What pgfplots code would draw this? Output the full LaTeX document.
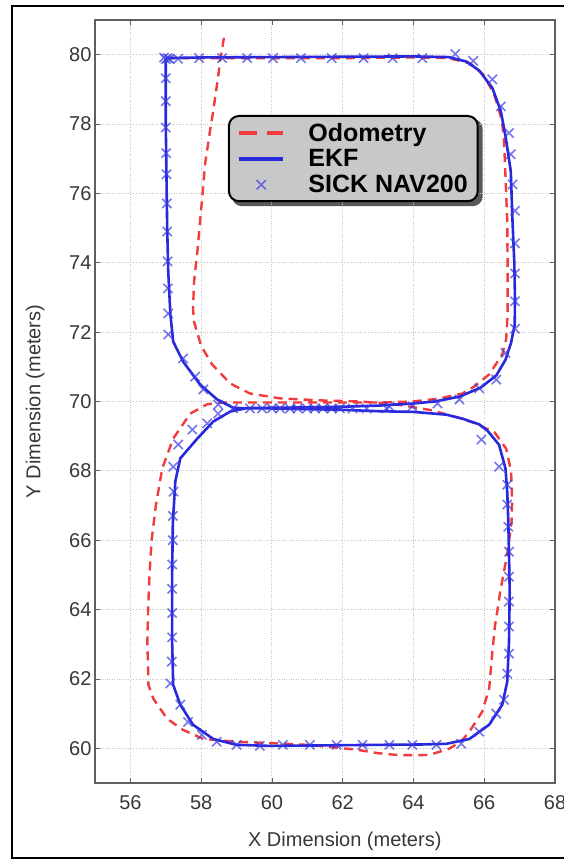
\documentclass[border=0pt]{standalone}
\usepackage{fontspec}
\setmainfont{Liberation Sans}
\usepackage{pgfplots}
\pgfplotsset{compat=1.18}
\usetikzlibrary{backgrounds}

\definecolor{odo}{RGB}{240,60,60}
\definecolor{ekf}{RGB}{40,40,220}
\definecolor{sick}{RGB}{60,60,225}
\definecolor{axgray}{RGB}{95,95,95}
\definecolor{txtgray}{RGB}{55,55,55}
\definecolor{leggray}{RGB}{200,200,200}

\pgfplotstableread{
x y
57.0 79.9
58.0 79.9
60.0 79.9
62.0 79.9
64.0 79.92
65.0 79.9
65.6 79.75
66.0 79.4
66.3 78.8
66.5 78.1
66.56 77.5
66.6 76.5
66.65 75.2
66.66 74.0
66.66 72.5
66.62 71.8
66.51 71.36
66.14 70.78
65.7 70.42
65.38 70.23
64.7 70.08
63.97 70.0
63.0 69.97
62.0 69.97
61.0 69.97
60.0 69.97
59.2 69.97
58.6 69.97
58.17 69.92
57.69 69.65
57.21 68.93
56.9 68.07
56.72 67.0
56.6 66.0
56.54 65.0
56.5 64.0
56.48 63.07
56.5 62.3
56.51 61.83
56.65 61.43
57.04 60.85
57.49 60.53
58.06 60.27
59.0 60.19
60.0 60.15
61.0 60.1
62.0 60.0
62.4 59.96
63.0 59.86
63.52 59.81
64.0 59.8
64.45 59.81
65.01 59.99
65.35 60.2
65.58 60.48
65.94 61.05
66.14 61.72
66.23 62.79
66.3 63.5
66.45 64.5
66.65 65.6
66.77 66.5
66.79 67.11
66.76 67.98
66.62 68.64
66.3 69.1
65.8 69.35
65.38 69.5
64.5 69.75
63.5 69.92
62.5 70.0
61.44 70.03
60.23 70.09
59.38 70.23
58.82 70.52
58.31 71.07
58.0 71.6
57.8 72.3
57.77 72.68
57.8 73.46
57.9 74.4
57.97 75.19
58.04 76.0
58.11 76.84
58.25 77.8
58.34 78.37
58.45 79.15
58.55 79.9
58.65 80.53
}\odometry

\pgfplotstableread{
x y
57.0 79.9
58.0 79.92
60.0 79.93
62.0 79.94
64.0 79.95
65.0 79.93
65.5 79.8
65.86 79.54
66.23 79.04
66.47 78.37
66.61 77.6
66.75 76.64
66.8 75.19
66.85 74.0
66.87 72.9
66.86 72.2
66.76 71.7
66.6 71.2
66.34 70.75
65.9 70.4
65.3 70.14
64.6 70.0
63.97 69.94
63.0 69.88
62.0 69.85
61.0 69.83
60.0 69.82
59.3 69.81
58.82 69.71
58.34 69.42
57.89 68.93
57.41 68.36
57.27 67.7
57.2 66.5
57.18 65.0
57.18 64.0
57.18 63.07
57.21 61.83
57.41 61.26
57.77 60.68
58.34 60.27
59.0 60.1
59.94 60.07
61.0 60.08
62.0 60.09
63.0 60.1
64.2 60.11
64.93 60.13
65.58 60.27
66.14 60.68
66.51 61.26
66.65 61.92
66.7 63.07
66.72 64.5
66.7 65.6
66.68 66.54
66.65 67.4
66.6 68.07
66.42 68.75
66.1 69.15
65.86 69.34
65.4 69.5
64.93 69.62
64.0 69.7
63.0 69.72
62.0 69.76
61.0 69.78
60.0 69.8
59.3 69.8
58.9 69.82
58.45 70.06
57.97 70.49
57.49 71.15
57.21 71.73
57.13 72.51
57.07 73.75
57.04 75.0
57.02 76.5
57.0 78.0
57.0 79.9
}\ekf

\pgfplotstableread{
x y
56.95 79.92
57.0 79.87
57.05 79.9
57.1 79.88
57.35 79.88
57.94 79.9
58.59 79.9
59.3 79.9
60.03 79.9
60.82 79.9
61.69 79.9
62.59 79.9
63.41 79.9
64.25 79.9
65.18 80.02
65.69 79.82
66.23 79.29
66.47 78.51
66.7 77.74
66.75 77.13
66.8 76.26
66.87 75.5
66.87 74.56
66.87 73.69
66.87 72.89
66.87 72.1
66.6 71.4
66.34 70.63
65.86 70.38
65.3 70.06
64.68 69.94
63.97 69.86
63.32 69.86
65.92 68.9
66.42 68.12
66.65 67.6
66.65 67.03
66.68 66.39
66.7 65.67
66.7 64.95
66.7 64.23
66.7 63.51
66.7 62.73
66.65 62.15
66.56 61.4
66.34 61.0
65.86 60.48
65.35 60.13
64.65 60.1
63.97 60.1
63.32 60.1
62.56 60.1
61.83 60.1
61.07 60.1
60.31 60.1
59.66 60.07
59.0 60.1
58.44 60.19
58.02 60.39
57.63 60.76
57.41 61.26
57.13 61.87
57.17 62.5
57.18 63.2
57.18 63.9
57.18 64.6
57.18 65.3
57.2 66.0
57.2 66.7
57.22 67.4
57.21 68.12
57.35 68.76
57.75 69.19
58.17 69.37
58.48 69.65
58.9 69.8
59.38 69.8
59.72 69.8
60.0 69.8
60.23 69.8
60.51 69.8
60.73 69.8
60.99 69.8
61.21 69.8
61.44 69.8
61.69 69.8
61.92 69.8
62.28 69.8
62.68 69.8
63.24 69.8
58.48 69.91
58.06 70.35
57.83 70.72
57.49 71.24
57.07 71.93
57.07 72.54
57.06 73.26
57.05 74.04
57.04 74.9
57.03 75.71
57.02 76.55
57.01 77.16
57.0 77.9
57.0 78.66
57.0 79.32
}\sick

\begin{document}
\begin{tikzpicture}
\useasboundingbox (0,0) rectangle (564bp,861bp);
\draw[line width=2.2bp] (12bp,3bp) rectangle (575bp,855bp);
\begin{axis}[
  at={(95bp,78bp)}, anchor=south west,
  scale only axis, width=460bp, height=763bp,
  xmin=55, xmax=68, ymin=59, ymax=81,
  xtick={56,58,60,62,64,66,68}, ytick={60,62,64,66,68,70,72,74,76,78,80},
  tick align=inside, major tick length=5bp,
  tick style={axgray, line width=0.8bp},
  axis line style={axgray, line width=1.3bp},
  grid=major, grid style={dotted, line width=0.9bp, gray!45},
  ticklabel style={font=\fontsize{20bp}{24bp}\selectfont, text=txtgray},
  xticklabel style={yshift=-9bp},
  /pgf/number format/assume math mode=true,
  xlabel={X Dimension (meters)}, ylabel={Y Dimension (meters)},
  label style={font=\fontsize{20bp}{24bp}\selectfont, text=txtgray},
  xlabel style={at={(axis description cs:0.543,0)}, anchor=north, yshift=-45bp},
  ylabel style={at={(axis description cs:0,0.5)}, anchor=south, yshift=47bp},
  legend style={at={(axis description cs:0.289,0.8755)}, anchor=north west,
    name=leg, fill=leggray, draw=black, line width=2bp, rounded corners=10bp,
    font=\bfseries\fontsize{25bp}{27bp}\selectfont,
    inner xsep=8bp, inner ysep=5bp, row sep=3bp,
    /tikz/every odd column/.append style={column sep=21bp}},
  legend cell align=left,
  legend image code/.code={\draw[mark repeat=2, mark phase=2, #1] plot coordinates {(0bp,0bp) (22bp,0bp) (44bp,0bp)};},
]
\addplot[odo, line width=2.4bp, dash pattern=on 9bp off 6bp,
  legend image post style={dash pattern=on 17bp off 11bp, line width=4.5bp}] table {\odometry};
\addlegendentry{Odometry}
\addplot[ekf, line width=2.6bp, legend image post style={line width=4.5bp}] table {\ekf};
\addlegendentry{EKF}
\addplot[sick, only marks, mark=x, mark size=6.5bp, mark options={line width=1.6bp, opacity=0.7},
  legend image post style={opacity=1}] table {\sick};
\addlegendentry{SICK NAV200}
\end{axis}
\begin{scope}[on background layer]
\fill[black!65, rounded corners=10bp] ([shift={(4bp,-4bp)}]leg.south west) rectangle ([shift={(4bp,-4bp)}]leg.north east);
\end{scope}
\end{tikzpicture}
\end{document}
